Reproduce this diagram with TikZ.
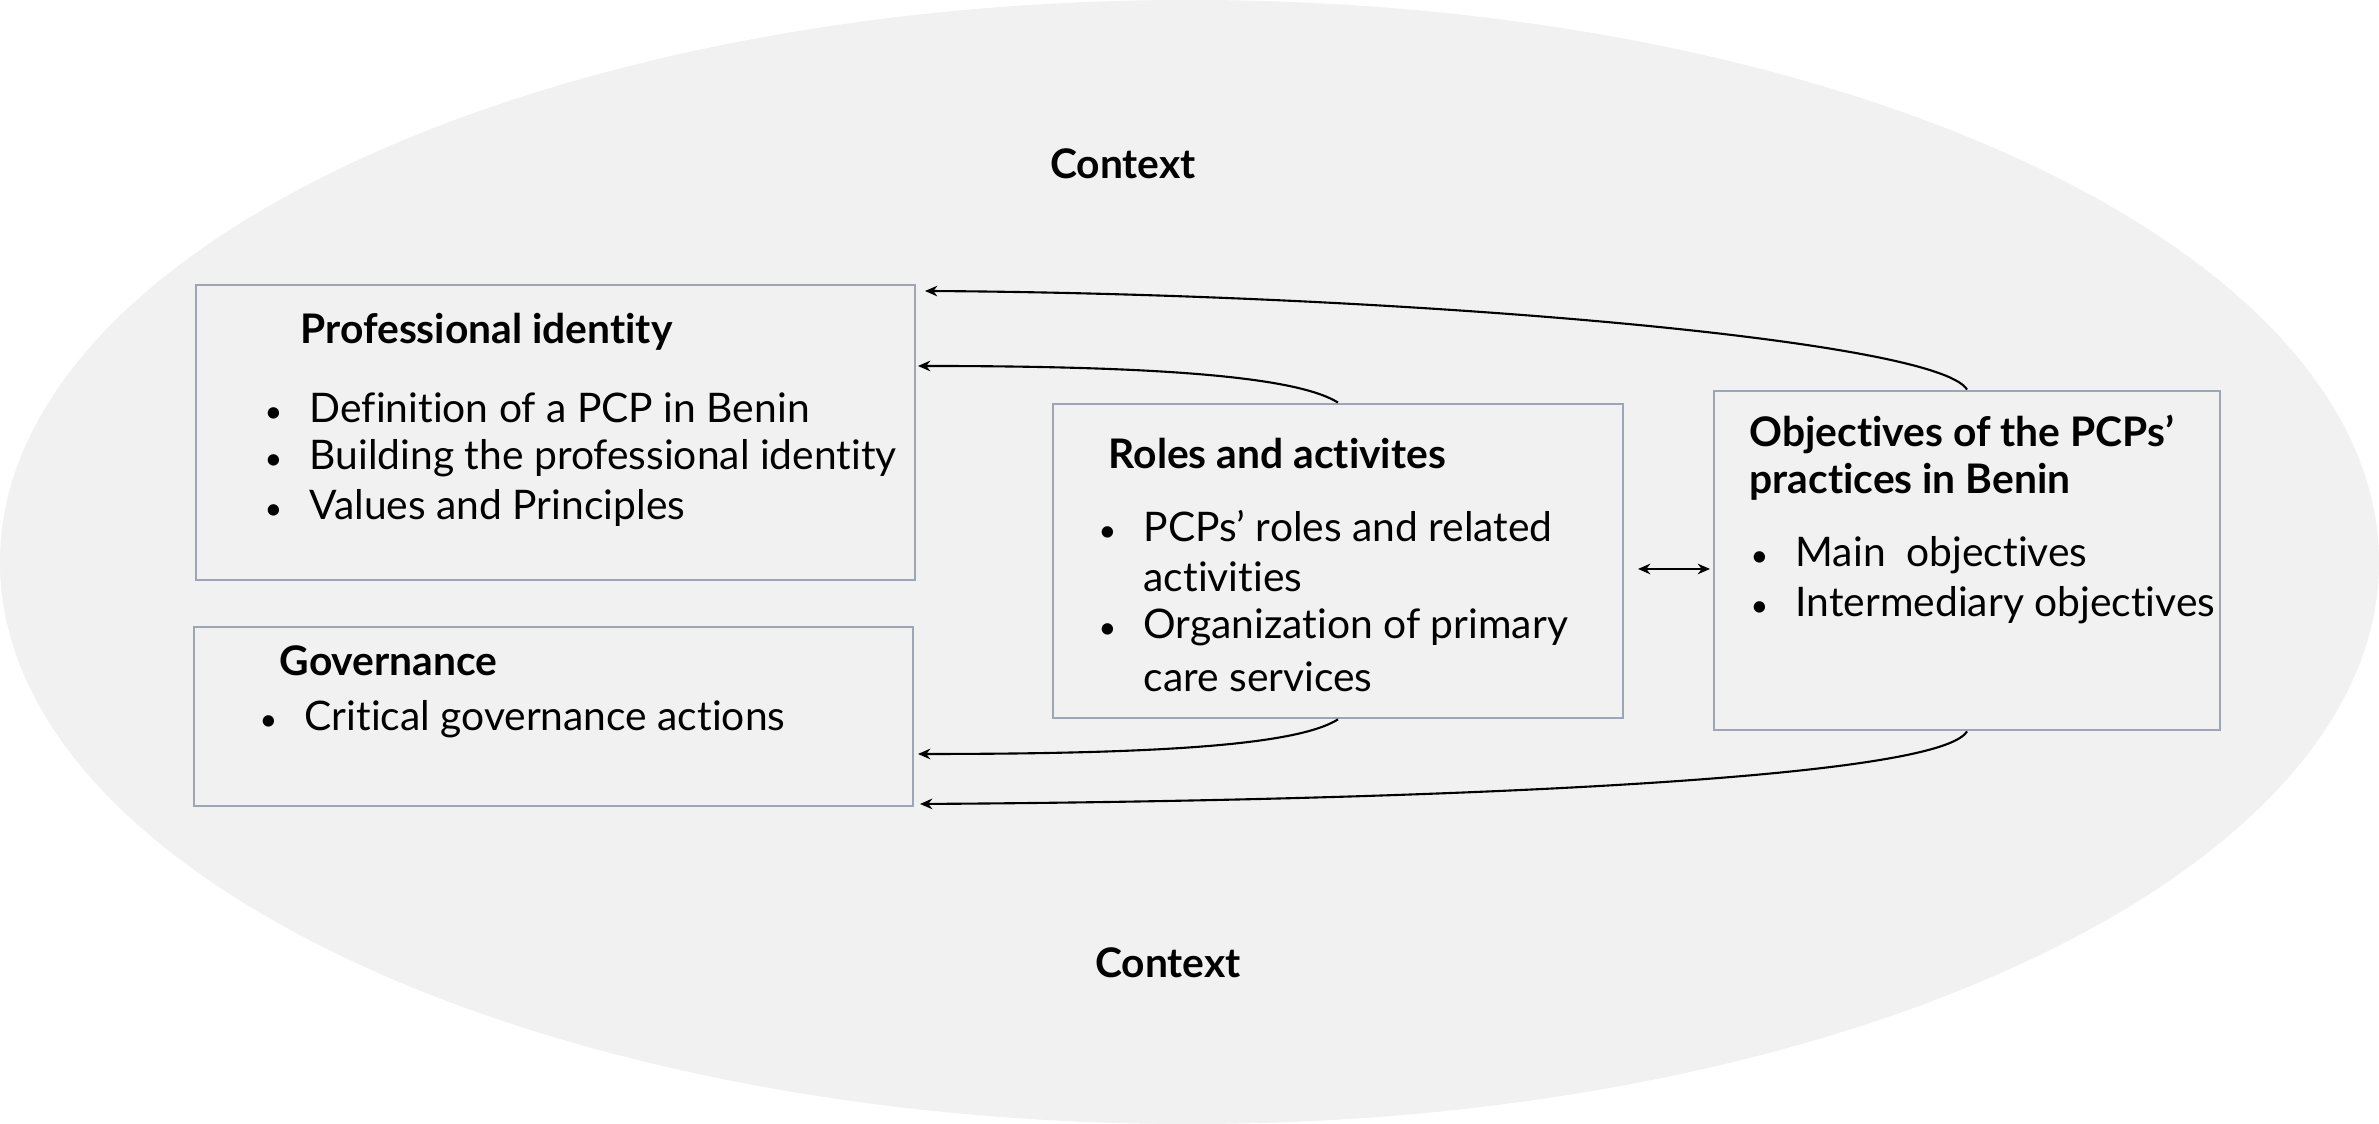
\documentclass[tikz,border=0pt]{standalone}
\usepackage{fontspec}
\setmainfont{Lato}[Ligatures={NoCommon,NoRequired,NoContextual}]
\usetikzlibrary{arrows.meta}
\definecolor{ctxfill}{RGB}{241,241,241}
\definecolor{boxline}{RGB}{158,166,182}
\newcommand{\itm}{\makebox[0.45cm][l]{\scalebox{0.75}{\textbullet}}}
\newcommand{\gap}{\makebox[0.45cm][l]{}}

\begin{document}
\begin{tikzpicture}[
  box/.style={draw=boxline, line width=0.8pt, fill=ctxfill, inner sep=0},
  txt/.style={anchor=west, inner sep=0, font=\fontsize{11.6}{14}\selectfont},
  ttl/.style={anchor=west, inner sep=0, font=\fontsize{11.6}{14}\selectfont\bfseries},
  link/.style={line width=0.6pt, -{Stealth[length=3.5pt,width=3pt]}}]
\useasboundingbox (0,0) rectangle (23.79,11.24);
\fill[white] (0,0) rectangle (23.79,11.24);
\fill[ctxfill] (11.895,5.62) ellipse (11.895 and 5.62);

\node[ttl, anchor=center] (ctxtop) at (11.23,9.60) {Context};
\node[ttl, anchor=center] (ctxbot) at (11.68,1.61) {Context};

% boxes
\node[box, minimum width=7.19cm, minimum height=2.95cm] (pid) at (5.555,6.915) {};
\node[box, minimum width=7.19cm, minimum height=1.79cm] (gov) at (5.535,4.075) {};
\node[box, minimum width=5.70cm, minimum height=3.14cm] (roles) at (13.38,5.63) {};
\node[box, minimum width=5.06cm, minimum height=3.39cm] (obj) at (19.67,5.635) {};

% professional identity
\node[ttl] (pidt) at (3.00,7.92) {Professional identity};
\node[txt] (pid1) at (2.64,7.16) {\itm Definition of a PCP in Benin};
\node[txt] (pid2) at (2.64,6.66) {\itm Building the professional identity};
\node[txt] (pid3) at (2.64,6.16) {\itm Values and Principles};

% governance
\node[ttl] (govt) at (2.79,4.63) {Governance};
\node[txt] (gov1) at (2.59,4.05) {\itm Critical governance actions};

% roles
\node[ttl] (rolest) at (11.08,6.70) {Roles and activites};
\node[txt] (roles1) at (10.98,5.98) {\itm PCPs’ roles and related};
\node[txt] (roles2) at (10.98,5.47) {\gap activities};
\node[txt] (roles3) at (10.98,4.97) {\itm Organization of primary};
\node[txt] (roles4) at (10.98,4.47) {\gap care services};

% objectives
\node[ttl] (objt1) at (17.49,6.90) {Objectives of the PCPs’};
\node[ttl] (objt2) at (17.49,6.42) {practices in Benin};
\node[txt] (obj1) at (17.50,5.69) {\itm Main\ \ objectives};
\node[txt] (obj2) at (17.50,5.19) {\itm Intermediary objectives};

% links
\coordinate (a1) at (9.25,8.33);
\coordinate (a2) at (9.18,7.58);
\coordinate (a3) at (9.18,3.70);
\coordinate (a4) at (9.20,3.20);
\coordinate (b1) at (16.38,5.55);
\coordinate (b2) at (17.10,5.55);
\draw[link] (obj.north) .. controls +(-0.3,0.5) and +(4.75,-0.03) .. (a1);
\draw[link] (roles.north) .. controls +(-0.4,0.25) and +(2.5,0) .. (a2);
\draw[link] (roles.south) .. controls +(-0.4,-0.25) and +(2.5,0) .. (a3);
\draw[link] (obj.south) .. controls +(-0.3,-0.5) and +(4.75,0.03) .. (a4);
\draw[line width=0.6pt, {Stealth[length=3.5pt,width=3pt]}-{Stealth[length=3.5pt,width=3pt]}] (b1) -- (b2);
\end{tikzpicture}
\end{document}
